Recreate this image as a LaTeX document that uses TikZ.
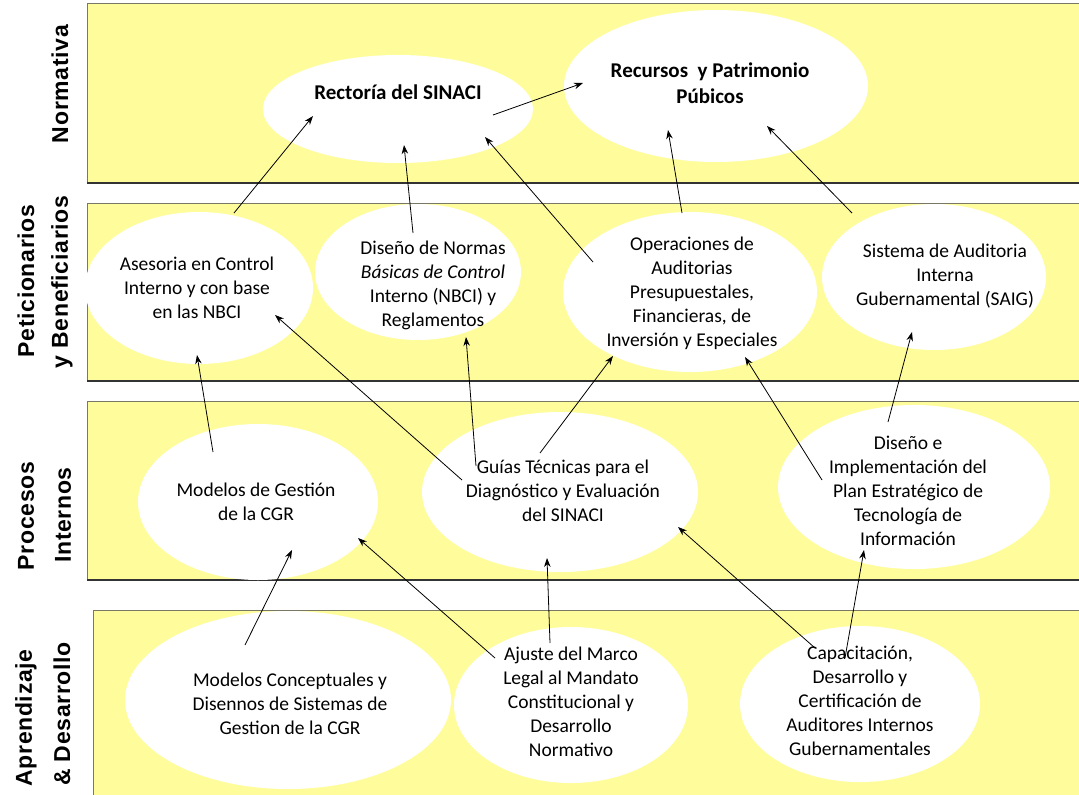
\documentclass[tikz,border=0pt]{standalone}
\usepackage{fontspec}
\setmainfont{Carlito}
\newfontfamily\lblfont[LetterSpace=3]{Liberation Sans}
\usetikzlibrary{shapes.geometric,arrows.meta}
\definecolor{bandyellow}{RGB}{255,253,155}
\definecolor{bandedge}{RGB}{120,120,100}
\tikzset{
  band/.style={fill=bandyellow, draw=bandedge, line width=0.6pt},
  bandbottom/.style={draw=black!80, line width=2.4pt},
  ell/.style={ellipse, fill=white, draw=none, inner sep=0pt},
  txt/.style={align=center, inner sep=0pt, font=\fontsize{19.5}{24}\selectfont},
  btxt/.style={align=center, inner sep=0pt, font=\fontsize{21}{26}\selectfont\bfseries},
  lbl/.style={rotate=90, inner sep=0pt, font=\lblfont\fontsize{23}{28}\selectfont\bfseries},
  arr/.style={-{Stealth[length=9pt,width=6.5pt]}, line width=0.8pt, black}
}
\begin{document}
\begin{tikzpicture}[x=1pt,y=-1pt]
\useasboundingbox (0,0) rectangle (1079,795);
% bands
\path[band] (87,3) rectangle (1090,183);
\draw[bandbottom] (87,183) -- (1090,183);
\path[band] (87,203) rectangle (1090,381);
\draw[bandbottom] (87,381) -- (1090,381);
\path[band] (87,401) rectangle (1090,580);
\draw[bandbottom] (87,580) -- (1090,580);
\path[band] (93,610) rectangle (1090,810);
% band labels
\node[lbl] (l1) at (60,84) {Normativa};
\node[lbl] (l2a) at (26,281) {Peticionarios};
\node[lbl] (l2b) at (62,282) {y Beneficiarios};
\node[lbl] (l3a) at (26,516) {Procesos};
\node[lbl] (l3b) at (63,515) {Internos};
\node[lbl] (l4a) at (26,718) {Aprendizaje};
\node[lbl] (l4b) at (62,714) {\& Desarrollo};
% ellipses
\node[ell, minimum width=270pt, minimum height=108pt] (e1) at (398,109) {};
\node[ell, minimum width=304pt, minimum height=152pt] (e2) at (716,86) {};
\node[ell, minimum width=228pt, minimum height=152pt] (e3) at (199,288) {};
\node[ell, minimum width=206pt, minimum height=136pt] (e4) at (418,272) {};
\node[ell, minimum width=254pt, minimum height=160pt] (e5) at (690,292) {};
\node[ell, minimum width=224pt, minimum height=146pt] (e6) at (934,277) {};
\node[ell, minimum width=240pt, minimum height=156pt] (e7) at (258,502) {};
\node[ell, minimum width=276pt, minimum height=160pt] (e8) at (560,492) {};
\node[ell, minimum width=272pt, minimum height=164pt] (e9) at (914,487) {};
\node[ell, minimum width=326pt, minimum height=178pt] (e10) at (288,700) {};
\node[ell, minimum width=234pt, minimum height=156pt] (e11) at (571,705) {};
\node[ell, minimum width=240pt, minimum height=156pt] (e12) at (860,704) {};
% texts
\node[btxt] (t1) at (398,92) {Rectoría del SINACI};
\node[btxt] (t2) at (710,83) {Recursos\ \ y Patrimonio\\Púbicos};
\node[txt] (t3) at (197,288) {Asesoria en Control\\Interno y con base\\en las NBCI};
\node[txt] (t4) at (433,285) {Diseño de Normas\\\textit{Básicas de Control}\\Interno (NBCI) y\\Reglamentos};
\node[txt] (t5) at (692,293) {Operaciones de\\Auditorias\\Presupuestales,\\Financieras, de\\Inversión y Especiales};
\node[txt] (t6) at (945,276) {Sistema de Auditoria\\Interna\\Gubernamental (SAIG)};
\node[txt] (t7) at (256,502) {Modelos de Gestión\\de la CGR};
\node[txt] (t8) at (563,491) {Guías Técnicas para el\\Diagnóstico y Evaluación\\del SINACI};
\node[txt] (t9) at (908,491) {Diseño e\\Implementación del\\Plan Estratégico de\\Tecnología de\\Información};
\node[txt] (t10) at (290,704) {Modelos Conceptuales y\\Disennos de Sistemas de\\Gestion de la CGR};
\node[txt] (t11) at (571,702) {Ajuste del Marco\\Legal al Mandato\\Constitucional y\\Desarrollo\\Normativo};
\node[txt] (t12) at (860,701) {Capacitación,\\Desarrollo y\\Certificación de\\Auditores Internos\\Gubernamentales};
% connector end points
\coordinate (a1s) at (493,115);  \coordinate (a1e) at (583,83);
\coordinate (a2s) at (234,213);  \coordinate (a2e) at (313,116);
\coordinate (a3s) at (413,233);  \coordinate (a3e) at (404,145);
\coordinate (a4s) at (593,262);  \coordinate (a4e) at (485,137);
\coordinate (a5s) at (682,213);  \coordinate (a5e) at (668,130);
\coordinate (a6s) at (852,213);  \coordinate (a6e) at (767,126);
\coordinate (a7s) at (213,452);  \coordinate (a7e) at (197,355);
\coordinate (a8s) at (462,480);  \coordinate (a8e) at (275,315);
\coordinate (a9s) at (476,466);  \coordinate (a9e) at (466,337);
\coordinate (a10s) at (540,453); \coordinate (a10e) at (613,356);
\coordinate (a11s) at (822,480); \coordinate (a11e) at (745,357);
\coordinate (a12s) at (888,422); \coordinate (a12e) at (912,332);
\coordinate (a13s) at (245,645); \coordinate (a13e) at (292,550);
\coordinate (a14s) at (495,658); \coordinate (a14e) at (358,538);
\coordinate (a15s) at (550,643); \coordinate (a15e) at (547,558);
\coordinate (a16s) at (815,648); \coordinate (a16e) at (678,527);
\coordinate (a17s) at (845,658); \coordinate (a17e) at (864,550);
% connectors
\foreach \i in {1,...,17} { \draw[arr] (a\i s) -- (a\i e); }
\end{tikzpicture}
\end{document}
